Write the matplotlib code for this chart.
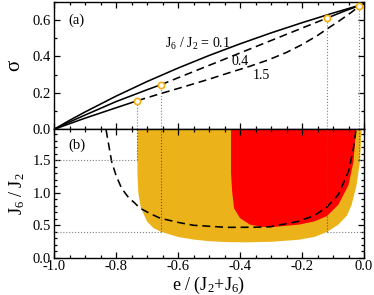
import matplotlib.pyplot as plt
from matplotlib.ticker import MultipleLocator

plt.rcParams["font.family"] = ["Liberation Serif", "DejaVu Serif"]
plt.rcParams["mathtext.fontset"] = "custom"
plt.rcParams["mathtext.rm"] = "Liberation Serif"
plt.rcParams["mathtext.it"] = "Liberation Serif:italic"
plt.rcParams["mathtext.default"] = "regular"
plt.rcParams["axes.unicode_minus"] = False

YELLOW = "#EBB21A"
RED = "#FF0000"
MARK = "#F2AE10"

# (a) sigma vs e for J6/J2 = 0.1, 0.4, 1.5
e_01 = [-1.0, -0.95, -0.9, -0.8, -0.7, -0.6, -0.5, -0.4, -0.3, -0.2, -0.1, 0.0]
s_01 = [0.0, 0.049, 0.095, 0.182, 0.262, 0.336, 0.405, 0.469, 0.529, 0.585,
        0.638, 0.688]

e_04_a = [-1.0, -0.95, -0.9, -0.8, -0.7, -0.655]
s_04_a = [0.0, 0.040, 0.078, 0.152, 0.217, 0.245]
e_04_b = [-0.655, -0.12]
s_04_b = [0.245, 0.61]
e_04_c = [-0.12, -0.06, 0.0]
s_04_c = [0.61, 0.651, 0.688]

e_15_a = [-1.0, -0.9, -0.8, -0.731]
s_15_a = [0.0, 0.061, 0.118, 0.157]
e_15_b = [-0.731, -0.658, -0.572, -0.5, -0.432, -0.37, -0.31, -0.25, -0.2,
          -0.15, -0.12, -0.08, -0.04, -0.015]
s_15_b = [0.157, 0.195, 0.238, 0.275, 0.312, 0.345, 0.38, 0.422, 0.465,
          0.515, 0.55, 0.595, 0.643, 0.677]
e_15_c = [-0.015, 0.0]
s_15_c = [0.677, 0.688]

mark_e = [-0.731, -0.655, -0.12, -0.015]
mark_s = [0.157, 0.245, 0.61, 0.677]
mark_j = [1.5, 0.4, 0.4, 1.5]

# (b) phase regions in (e, J6/J2)
yel_e = [-0.731, -0.731, -0.728, -0.72, -0.70, -0.68, -0.655, -0.6, -0.55, -0.5,
         -0.44, -0.38, -0.3, -0.21, -0.16, -0.12, -0.083, -0.055, -0.04, -0.024,
         -0.013, -0.008]
yel_j = [1.98, 1.3, 1.0, 0.77, 0.56, 0.46, 0.40, 0.32, 0.28, 0.255,
         0.24, 0.237, 0.245, 0.277, 0.32, 0.395, 0.51, 0.65, 0.815, 1.12,
         1.48, 1.98]
red_e = [-0.429, -0.429, -0.425, -0.419, -0.40, -0.368, -0.33, -0.3, -0.21,
         -0.16, -0.12, -0.083, -0.05, -0.034, -0.026]
red_j = [1.98, 1.3, 1.0, 0.76, 0.61, 0.51, 0.475, 0.47, 0.51,
         0.56, 0.64, 0.815, 1.12, 1.48, 1.98]

dash_e = [-0.832, -0.814, -0.8, -0.782, -0.76, -0.74, -0.723, -0.69, -0.658,
          -0.6, -0.55, -0.443, -0.35, -0.303, -0.212, -0.16, -0.12, -0.083,
          -0.05, -0.034, -0.026]
dash_j = [1.97, 1.48, 1.27, 1.07, 0.93, 0.845, 0.765, 0.68, 0.61,
          0.545, 0.5, 0.468, 0.47, 0.477, 0.56, 0.65, 0.78, 0.97,
          1.33, 1.69, 1.97]

fig = plt.figure(figsize=(3.74, 2.95), dpi=100)
ax1 = fig.add_axes([0.1444, 0.5617, 0.8289, 0.4323])
ax2 = fig.add_axes([0.1444, 0.1264, 0.8289, 0.4353])

LW = 1.15

# panel (a)
ax1.plot(e_01, s_01, color="black", lw=LW)
ax1.plot(e_04_a, s_04_a, color="black", lw=LW)
ax1.plot(e_04_b, s_04_b, color="black", lw=LW, dashes=(5, 3))
ax1.plot(e_04_c, s_04_c, color="black", lw=LW)
ax1.plot(e_15_a, s_15_a, color="black", lw=LW)
ax1.plot(e_15_b, s_15_b, color="black", lw=LW, dashes=(5, 3))
ax1.plot(e_15_c, s_15_c, color="black", lw=LW)
for e, s in zip(mark_e, mark_s):
    ax1.plot([e, e], [0, s], color="gray", lw=0.8, ls=":")
ax1.plot(mark_e, mark_s, "o", ms=4.5, mfc="white", mec=MARK, mew=1.2, zorder=5)

ax1.text(-0.955, 0.6, "(a)", fontsize=10.5, va="center")
ax1.text(-0.642, 0.469, "J$_6$ / J$_2$ = 0.1", fontsize=10, va="center")
ax1.text(-0.4, 0.371, "0.4", fontsize=10, ha="center", va="center")
ax1.text(-0.33, 0.293, "1.5", fontsize=10, ha="center", va="center")

ax1.set_xlim(-1, 0)
ax1.set_ylim(0, 0.7)
ax1.set_ylabel("σ", fontsize=15, labelpad=6)
ax1.yaxis.set_major_locator(MultipleLocator(0.2))
ax1.yaxis.set_minor_locator(MultipleLocator(0.1))
ax1.tick_params(labelbottom=False)

# panel (b)
ax2.fill(yel_e, yel_j, color=YELLOW, lw=0)
ax2.fill(red_e, red_j, color=RED, lw=0)
ax2.plot(dash_e, dash_j, color="black", lw=LW, dashes=(5, 3))
for e, j in zip(mark_e, mark_j):
    ax2.plot([e, e], [j, 2], color="#555555", lw=0.8, ls=":")
    if e < -0.5:
        ax2.plot([-1, e], [j, j], color="gray", lw=0.8, ls=":")
    else:
        ax2.plot([e, 0], [j, j], color="gray", lw=0.8, ls=":")

ax2.text(-0.955, 1.73, "(b)", fontsize=10.5, va="center")
ax2.set_xlim(-1, 0)
ax2.set_ylim(0, 1.98)
ax2.set_xlabel("e / (J$_2$+J$_6$)", fontsize=13, labelpad=1)
ax2.set_ylabel("J$_6$ / J$_2$", fontsize=13, labelpad=4)
ax2.yaxis.set_major_locator(MultipleLocator(0.5))
ax2.yaxis.set_minor_locator(MultipleLocator(0.1))
ax2.set_yticks([0.0, 0.5, 1.0, 1.5])

for ax in (ax1, ax2):
    ax.xaxis.set_major_locator(MultipleLocator(0.2))
    ax.xaxis.set_minor_locator(MultipleLocator(0.05))
    ax.tick_params(which="both", direction="in", top=True, right=True,
                   labelsize=10.5, width=0.9, pad=2)
    ax.tick_params(which="major", length=4.5)
    ax.tick_params(which="minor", length=2.5)
    ax.xaxis.set_major_formatter(lambda v, p: f"{v:.1f}")
    ax.yaxis.set_major_formatter(lambda v, p: f"{v:.1f}")
    for sp in ax.spines.values():
        sp.set_linewidth(1.0)

fig.savefig("out.png", dpi=100)
